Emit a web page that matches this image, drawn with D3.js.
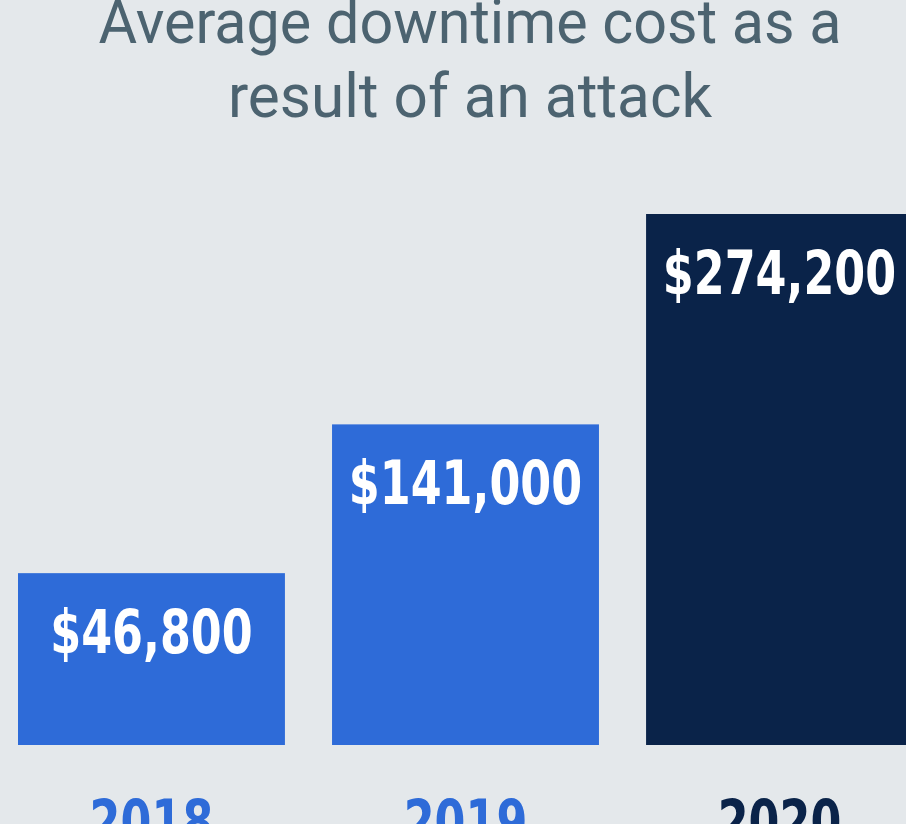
<!DOCTYPE html>
<html>
<head>
<meta charset="utf-8">
<script src="https://cdn.jsdelivr.net/npm/d3@7"></script>
<style>
  html, body { margin: 0; padding: 0; background: #e4e8eb; overflow: hidden; }
  svg { display: block; }
</style>
</head>
<body>
<svg id="chart"></svg>
<script>
const years = ["2018", "2019", "2020"];
const costs = [46800, 141000, 274200];
const barColors = ["#2e6bd8", "#2e6bd8", "#0a2349"];
const titleLines = ["Average downtime cost as a", "result of an attack"];

const width = 906;
const height = 824;
const baseline = 745;
const topY = 214;
const labelFont = "'DejaVu Sans Condensed', 'DejaVu Sans', sans-serif";
const squeeze = 0.81; // narrow the condensed bold to look like DIN condensed

const svg = d3.select("#chart")
    .attr("width", width)
    .attr("height", height);

// the bars run off the right edge of the picture
const x = d3.scaleBand()
    .domain(years)
    .range([18, 913])
    .paddingInner(0.15)
    .paddingOuter(0);

// infographic scale: bars don't start from zero
const y = d3.scaleLinear()
    .domain([-62000, d3.max(costs)])
    .range([baseline, topY]);

const fmt = d3.format("$,");

const squeezeText = function () {
    const w = this.getComputedTextLength();
    d3.select(this)
        .attr("textLength", w * squeeze)
        .attr("lengthAdjust", "spacingAndGlyphs");
};

// title
svg.append("g")
    .selectAll("text")
    .data(titleLines)
    .enter()
    .append("text")
    .attr("x", 470)
    .attr("y", (d, i) => 43 + i * 74)
    .attr("text-anchor", "middle")
    .attr("fill", "#4c6370")
    .attr("font-family", "Roboto, sans-serif")
    .attr("font-weight", 400)
    .attr("font-size", 62)
    .attr("textLength", (d, i) => i === 0 ? 743 : 484)
    .attr("lengthAdjust", "spacingAndGlyphs")
    .text(d => d);

const bars = svg.append("g")
    .selectAll("g")
    .data(years.map((yr, i) => ({year: yr, cost: costs[i], color: barColors[i]})))
    .enter()
    .append("g");

bars.append("rect")
    .attr("x", d => x(d.year))
    .attr("y", d => y(d.cost))
    .attr("width", x.bandwidth())
    .attr("height", d => baseline - y(d.cost))
    .attr("fill", d => d.color);

// value label inside the top of each bar
bars.append("text")
    .attr("x", d => x(d.year) + x.bandwidth() / 2)
    .attr("y", d => y(d.cost) + 80)
    .attr("text-anchor", "middle")
    .attr("fill", "#ffffff")
    .attr("font-family", labelFont)
    .attr("font-weight", 700)
    .attr("font-size", 61)
    .text(d => fmt(d.cost))
    .each(squeezeText);

// year labels below the bars
bars.append("text")
    .attr("x", d => x(d.year) + x.bandwidth() / 2)
    .attr("y", 843)
    .attr("text-anchor", "middle")
    .attr("fill", d => d.color)
    .attr("font-family", labelFont)
    .attr("font-weight", 700)
    .attr("font-size", 61)
    .text(d => d.year)
    .each(squeezeText);
</script>
</body>
</html>
